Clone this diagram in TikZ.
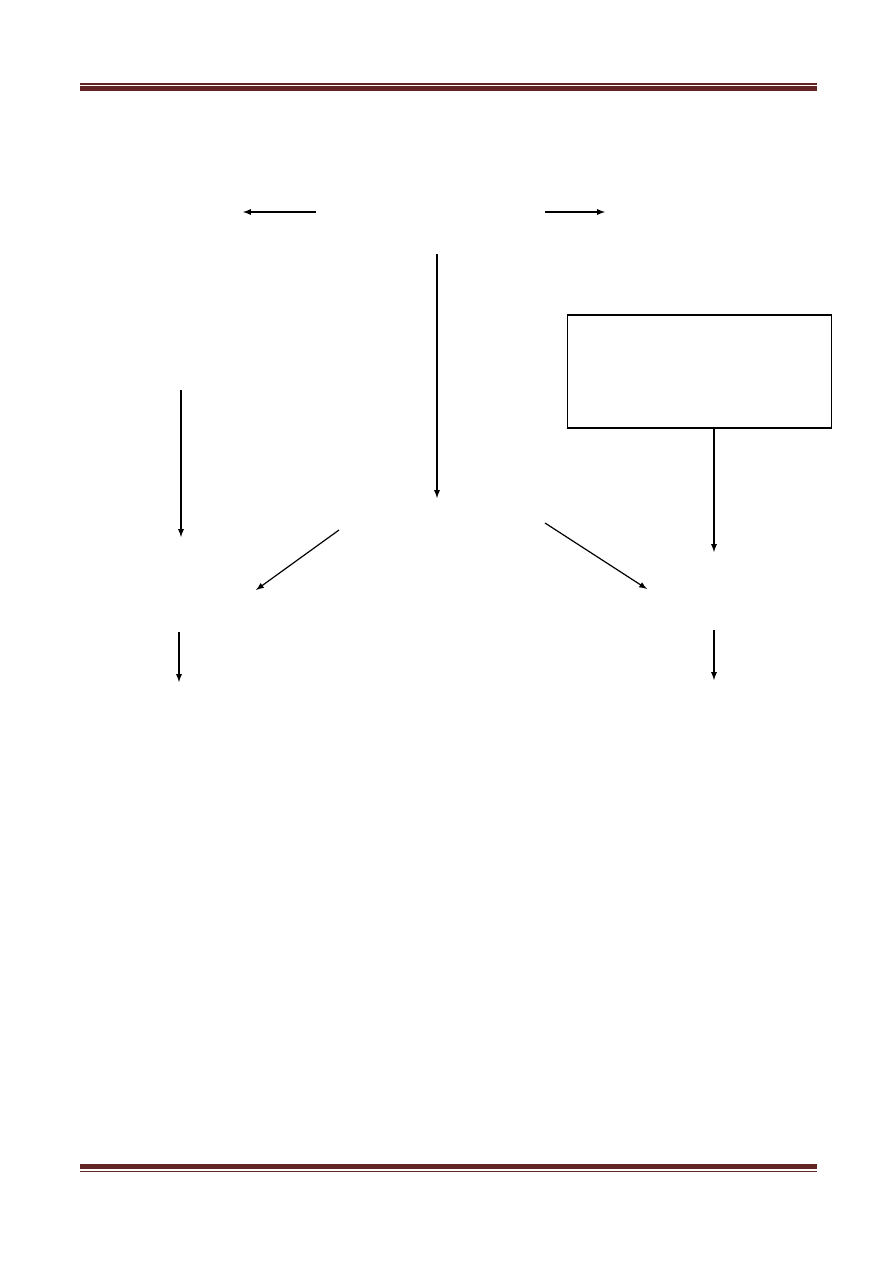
\documentclass[tikz,border=0pt]{standalone}
\usepackage{xcolor}
\usetikzlibrary{arrows,positioning}
\definecolor{RULE_COLOR}{HTML}{622423}
\tikzstyle{rule_thin}=[draw=RULE_COLOR, line width=0.8pt]
\tikzstyle{rule_thick}=[draw=RULE_COLOR, line width=3pt]
\tikzstyle{arr}=[->, >=latex, line width=0.8pt]
\tikzstyle{frame}=[rectangle, draw=black, line width=0.8pt, minimum width=6.19cm, minimum height=2.66cm]
\begin{document}
\begin{tikzpicture}[x=0.02352cm, y=-0.02352cm]
      \useasboundingbox (0,0) rectangle (893,1263);
      
      %%%%%%%%%%%%%%%%%%%%%%%%%%%%%%%%%%%%%%%%%%%%%%%%%
      % HEADER AND FOOTER RULES
      %%%%%%%%%%%%%%%%%%%%%%%%%%%%%%%%%%%%%%%%%%%%%%%%%
      \coordinate (HL) at (80,84);   \coordinate (HR) at (817,84);
      \coordinate (HL2) at (80,88.5); \coordinate (HR2) at (817,88.5);
      \draw[rule_thin]  (HL)  -- (HR);
      \draw[rule_thick] (HL2) -- (HR2);
      \coordinate (FL) at (80,1166.5); \coordinate (FR) at (817,1166.5);
      \coordinate (FL2) at (80,1171.5); \coordinate (FR2) at (817,1171.5);
      \draw[rule_thick] (FL)  -- (FR);
      \draw[rule_thin]  (FL2) -- (FR2);
      
      %%%%%%%%%%%%%%%%%%%%%%%%%%%%%%%%%%%%%%%%%%%%%%%%%
      % BOX
      %%%%%%%%%%%%%%%%%%%%%%%%%%%%%%%%%%%%%%%%%%%%%%%%%
      \node[frame] (box) at (699.5,371.5) {};
      
      %%%%%%%%%%%%%%%%%%%%%%%%%%%%%%%%%%%%%%%%%%%%%%%%%
      % ARROW ENDS
      %%%%%%%%%%%%%%%%%%%%%%%%%%%%%%%%%%%%%%%%%%%%%%%%%
      % top row
      \coordinate (TLs) at (316,212); \coordinate (TLe) at (243,212);
      \coordinate (TRs) at (545,212); \coordinate (TRe) at (605,212);
      % centre
      \coordinate (Cs) at (437,254);  \coordinate (Ce) at (437,498);
      % left column
      \coordinate (Ls) at (181,390);  \coordinate (Le) at (181,537);
      \coordinate (L2s) at (179,632); \coordinate (L2e) at (179,682);
      % diagonals
      \coordinate (DLs) at (339,530); \coordinate (DLe) at (256,590);
      \coordinate (DRs) at (545,523); \coordinate (DRe) at (647,589);
      % right column
      \coordinate (Re) at (714,552);
      \coordinate (R2s) at (714,630); \coordinate (R2e) at (714,680);
      
      %%%%%%%%%%%%%%%%%%%%%%%%%%%%%%%%%%%%%%%%%%%%%%%%%
      % ARROWS
      %%%%%%%%%%%%%%%%%%%%%%%%%%%%%%%%%%%%%%%%%%%%%%%%%
      \draw[arr] (TLs) -- (TLe);
      \draw[arr] (TRs) -- (TRe);
      \draw[arr] (Cs)  -- (Ce);
      \draw[arr] (Ls)  -- (Le);
      \draw[arr] (L2s) -- (L2e);
      \draw[arr] (DLs) -- (DLe);
      \draw[arr] (DRs) -- (DRe);
      \draw[arr] (box.south -| Re) -- (Re);
      \draw[arr] (R2s) -- (R2e);
\end{tikzpicture}
\end{document}
